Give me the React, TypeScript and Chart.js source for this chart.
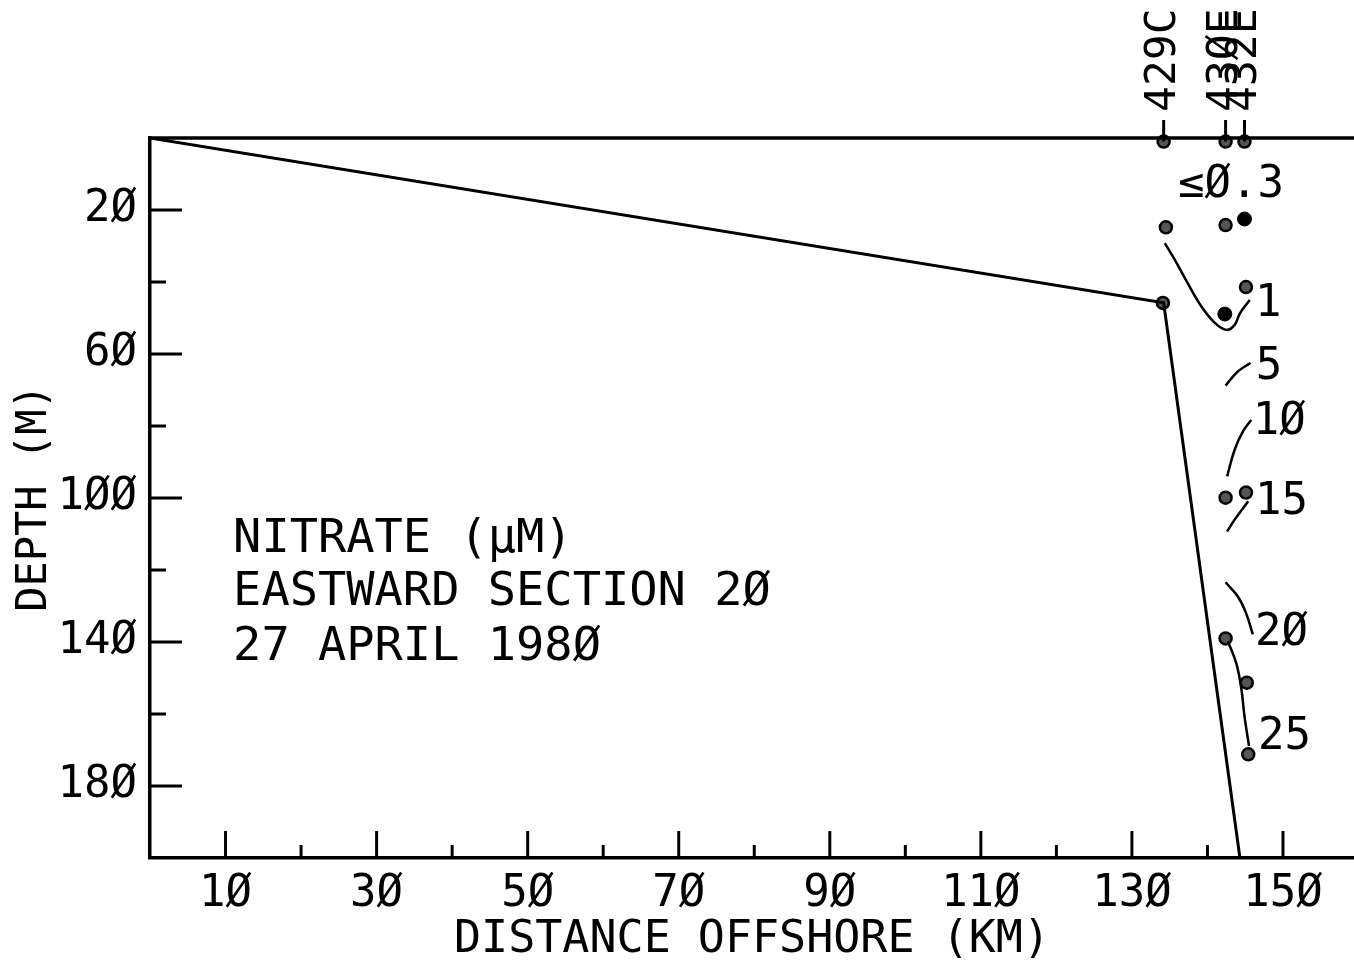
import React, { useEffect, useRef } from 'react';
import { Chart, registerables } from 'chart.js';

Chart.register(...registerables);

const FONT = "'DejaVu Sans Mono', 'Liberation Mono', monospace";

// Axis ticks (labels shown on major ticks only)
const xTickValues = [10, 20, 30, 40, 50, 60, 70, 80, 90, 100, 110, 120, 130, 140, 150];
const xLabelValues = [10, 30, 50, 70, 90, 110, 130, 150];
const yTickValues = [20, 40, 60, 80, 100, 120, 140, 160, 180];
const yLabelValues = [20, 60, 100, 140, 180];

// Bottom profile (km offshore, depth m)
const bathyKm = [0, 134.2, 144.3];
const bathyDepth = [0, 45.8, 200];

// Stations
const stationNames = ['429C', '43ØE', '432E'];
const stationKm = [134.2, 142.4, 144.9];

// Bottle samples (open circles)
const sampleKm = [134.2, 134.5, 134.1, 142.4, 142.4, 142.4, 142.4, 144.9, 145.1, 145.1, 145.2, 145.4];
const sampleDepth = [1, 24.8, 45.8, 1, 24.2, 99.9, 139.0, 1, 41.4, 98.5, 151.3, 171.2];

// Filled samples
const filledKm = [142.3, 144.9];
const filledDepth = [48.9, 22.5];

// Nitrate contours
const c1Km = [134.35, 135.7, 137.4, 139.2, 141.0, 142.5, 143.6, 144.3, 145.6];
const c1Depth = [29.2, 33.9, 40.4, 46.8, 51.4, 53.3, 51.9, 48.7, 45.0];
const c5Km = [142.4, 144.0, 145.7];
const c5Depth = [68.8, 64.9, 62.5];
const c10Km = [142.6, 143.6, 144.7, 145.8];
const c10Depth = [94.0, 86.6, 81.5, 78.3];
const c15Km = [142.6, 143.6, 145.4];
const c15Depth = [109.3, 106.0, 100.9];
const c20Km = [142.4, 144.0, 145.1, 146.0];
const c20Depth = [123.4, 127.3, 131.9, 137.9];
const c25Km = [142.7, 143.8, 144.5, 144.9, 145.5];
const c25Depth = [139.8, 145.8, 153.2, 160.6, 168.9];

// Contour labels
const contourLabels = ['≤Ø.3', '1', '5', '1Ø', '15', '2Ø', '25'];
const contourLabelKm = [136.1, 146.3, 146.4, 146.0, 146.3, 146.3, 146.7];
const contourLabelDepth = [13.3, 46.3, 63.8, 79.1, 101.3, 137.6, 166.5];

// Annotation block
const noteLines = ['NITRATE (μM)', 'EASTWARD SECTION 2Ø', '27 APRIL 198Ø'];
const noteKm = 11.0;
const noteDepth = [111.5, 126.2, 141.5];

const fmt = (v: number) => String(v).replace(/0/g, 'Ø');
const pts = (xs: number[], ys: number[]) => xs.map((x, i) => ({ x, y: ys[i] }));

const zeroPad = (s: any) => {
  s.paddingLeft = 0;
  s.paddingRight = 0;
  s.paddingTop = 0;
  s.paddingBottom = 0;
};

const overlay = {
  id: 'overlay',
  afterDraw(chart: any) {
    const { ctx, chartArea } = chart;
    const xs = chart.scales.x;
    const ys = chart.scales.y;
    ctx.save();
    ctx.strokeStyle = '#000';
    ctx.fillStyle = '#000';
    ctx.lineCap = 'butt';

    // top frame line
    ctx.lineWidth = 3.5;
    ctx.beginPath();
    ctx.moveTo(chartArea.left - 1.5, chartArea.top);
    ctx.lineTo(chartArea.right, chartArea.top);
    ctx.stroke();

    // inward ticks, x
    ctx.lineWidth = 3;
    xs.ticks.forEach((t: any) => {
      const v = t.value;
      const major = xLabelValues.includes(v);
      const px = xs.getPixelForValue(v);
      ctx.beginPath();
      ctx.moveTo(px, chartArea.bottom);
      ctx.lineTo(px, chartArea.bottom - (major ? 27 : 13));
      ctx.stroke();
    });
    // inward ticks, y
    ys.ticks.forEach((t: any) => {
      const v = t.value;
      const major = yLabelValues.includes(v);
      const py = ys.getPixelForValue(v);
      ctx.beginPath();
      ctx.moveTo(chartArea.left, py);
      ctx.lineTo(chartArea.left + (major ? 32 : 16), py);
      ctx.stroke();
    });

    // station labels with stems
    ctx.lineWidth = 3;
    ctx.font = `43px ${FONT}`;
    ctx.textAlign = 'left';
    ctx.textBaseline = 'middle';
    stationNames.forEach((name, i) => {
      const px = xs.getPixelForValue(stationKm[i]);
      ctx.beginPath();
      ctx.moveTo(px, chartArea.top - 18);
      ctx.lineTo(px, ys.getPixelForValue(1));
      ctx.stroke();
      ctx.save();
      ctx.translate(px, chartArea.top - 26);
      ctx.rotate(-Math.PI / 2);
      ctx.fillText(name, 0, 0);
      ctx.restore();
    });

    // contour labels
    ctx.font = `44px ${FONT}`;
    contourLabels.forEach((s, i) => {
      ctx.fillText(s, xs.getPixelForValue(contourLabelKm[i]), ys.getPixelForValue(contourLabelDepth[i]));
    });

    // annotation
    ctx.font = `47px ${FONT}`;
    noteLines.forEach((s, i) => {
      ctx.fillText(s, xs.getPixelForValue(noteKm), ys.getPixelForValue(noteDepth[i]));
    });
    ctx.restore();
  },
};

export default function App() {
  const ref = useRef<HTMLCanvasElement>(null);
  useEffect(() => {
    document.body.style.margin = '0';
    const canvas = ref.current!;
    const lineDs = (xs: number[], ys: number[], w: number) => ({
      data: pts(xs, ys),
      showLine: true,
      borderColor: '#000',
      borderWidth: w,
      pointRadius: 0,
      tension: 0.4,
      fill: false,
    });
    const chart = new Chart(canvas, {
      type: 'scatter',
      data: {
        datasets: [
          { ...lineDs(bathyKm, bathyDepth, 3), tension: 0 },
          lineDs(c1Km, c1Depth, 2.5),
          lineDs(c5Km, c5Depth, 2.5),
          lineDs(c10Km, c10Depth, 2.5),
          lineDs(c15Km, c15Depth, 2.5),
          lineDs(c20Km, c20Depth, 2.5),
          lineDs(c25Km, c25Depth, 2.5),
          {
            data: pts(sampleKm, sampleDepth),
            pointRadius: 6,
            pointBorderWidth: 2.5,
            pointBorderColor: '#000',
            pointBackgroundColor: '#555',
            clip: false as any,
          },
          {
            data: pts(filledKm, filledDepth),
            pointRadius: 7,
            pointBorderWidth: 1,
            pointBorderColor: '#000',
            pointBackgroundColor: '#000',
            clip: false as any,
          },
        ],
      },
      options: {
        responsive: false,
        animation: false,
        devicePixelRatio: 1,
        layout: { autoPadding: false, padding: { top: 138, left: 0, right: 0, bottom: 0 } },
        plugins: { legend: { display: false }, tooltip: { enabled: false } },
        scales: {
          x: {
            type: 'linear',
            position: 'bottom',
            min: 0,
            max: 159.4,
            afterBuildTicks: (s: any) => { s.ticks = xTickValues.map((value) => ({ value })); },
            afterFit: (s: any) => { s.height = 109; zeroPad(s); },
            grid: { display: false, drawTicks: false },
            border: { display: true, color: '#000', width: 3.5 },
            ticks: {
              autoSkip: false,
              maxRotation: 0,
              minRotation: 0,
              padding: 10,
              color: '#000',
              font: { size: 44, family: FONT },
              callback: (v: any) => (xLabelValues.includes(Number(v)) ? fmt(Number(v)) : ''),
            },
            title: {
              display: true,
              text: 'DISTANCE OFFSHORE (KM)',
              color: '#000',
              font: { size: 45, family: FONT },
              padding: { top: 0, bottom: 0 },
            },
          },
          y: {
            type: 'linear',
            reverse: true,
            min: 0,
            max: 200,
            afterBuildTicks: (s: any) => { s.ticks = yTickValues.map((value) => ({ value })); },
            afterFit: (s: any) => { s.width = 150; zeroPad(s); },
            grid: { display: false, drawTicks: false },
            border: { display: true, color: '#000', width: 3.5 },
            ticks: {
              autoSkip: false,
              padding: 13,
              color: '#000',
              font: { size: 44, family: FONT },
              callback: (v: any) => (yLabelValues.includes(Number(v)) ? fmt(Number(v)) : ''),
            },
            title: {
              display: true,
              text: 'DEPTH (M)',
              color: '#000',
              font: { size: 42, family: FONT },
              padding: { top: 10, bottom: 0 },
            },
          },
        },
      },
      plugins: [overlay],
    } as any);
    return () => chart.destroy();
  }, []);
  return (
    <div style={{ position: 'absolute', left: 0, top: 0, width: 1354, height: 967, background: '#fff' }}>
      <canvas ref={ref} width={1354} height={967} style={{ display: 'block', width: 1354, height: 967 }} />
    </div>
  );
}
